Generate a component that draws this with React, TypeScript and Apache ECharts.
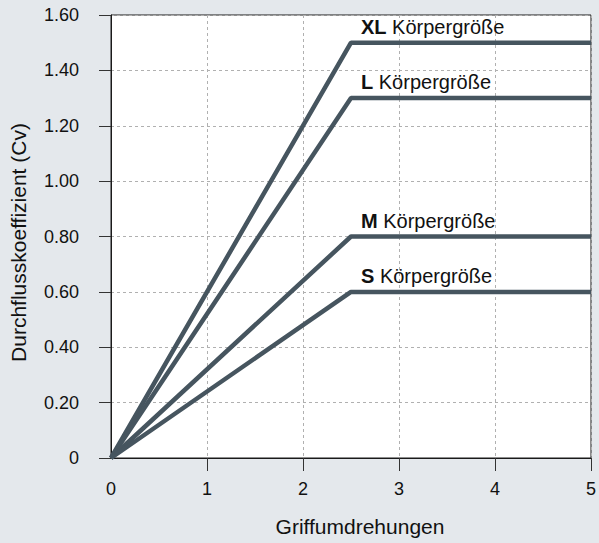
import React, { useEffect, useRef } from "react";
import * as echarts from "echarts";

const sizes = ["XL", "L", "M", "S"];
const turnPoints = [0, 2.5, 5];
const xlValues = [0, 1.5, 1.5];
const lValues = [0, 1.3, 1.3];
const mValues = [0, 0.8, 0.8];
const sValues = [0, 0.6, 0.6];
const xTickLabels = [0, 1, 2, 3, 4, 5];

const LINE_COLOR = "#46555f";
const FONT = "'Liberation Sans', Arial, Helvetica, sans-serif";

function makeSeries(name: string, values: number[]) {
  return {
    name,
    type: "line",
    data: values.map((v, i) => {
      const item: any = { value: [turnPoints[i], v] };
      if (i === 1) {
        item.label = {
          show: true,
          position: [10, -16],
          align: "left",
          verticalAlign: "middle",
          formatter: "{b|" + name + "} Körpergröße",
          fontFamily: FONT,
          fontSize: 20,
          color: "#111",
          rich: {
            b: { fontWeight: "bold", fontFamily: FONT, fontSize: 20, color: "#111" },
          },
        };
      }
      return item;
    }),
    showSymbol: true,
    symbol: "circle",
    symbolSize: 0,
    lineStyle: { color: LINE_COLOR, width: 4.5 },
    itemStyle: { color: LINE_COLOR },
    emphasis: { disabled: true },
    silent: true,
  };
}

export default function App() {
  const ref = useRef<HTMLDivElement>(null);
  useEffect(() => {
    if (!ref.current) return;
    const chart = echarts.init(ref.current, undefined, { renderer: "svg" });
    const seriesValues = [xlValues, lValues, mValues, sValues];
    chart.setOption({
      animation: false,
      backgroundColor: "#e4e8ec",
      grid: {
        left: 110,
        right: 5,
        top: 15,
        bottom: 85,
        show: true,
        backgroundColor: "#ffffff",
        borderColor: "#1a1a1a",
        borderWidth: 1,
      },
      xAxis: {
        type: "value",
        min: 0,
        max: 5,
        interval: 0.5,
        name: "Griffumdrehungen",
        nameLocation: "middle",
        nameGap: 58,
        nameTextStyle: { fontFamily: FONT, fontSize: 21, color: "#111", padding: [0, 0, 0, 18] },
        axisLine: { show: true, onZero: false, lineStyle: { color: "#1a1a1a", width: 1 } },
        axisTick: {
          show: true,
          length: 13,
          customValues: [1, 2, 3, 4, 5],
          lineStyle: { color: "#333", width: 1 },
        },
        axisLabel: {
          customValues: xTickLabels,
          margin: 22,
          fontFamily: FONT,
          fontSize: 18,
          color: "#111",
          formatter: (v: number) => String(v),
        },
        splitLine: { show: true, lineStyle: { color: "#b0b0b0", type: [3, 3], width: 1 } },
      },
      yAxis: {
        type: "value",
        min: 0,
        max: 1.6,
        interval: 0.2,
        name: "Durchflusskoeffizient (Cv)",
        nameLocation: "middle",
        nameGap: 82,
        nameTextStyle: { fontFamily: FONT, fontSize: 21, color: "#111", padding: [0, 12, 0, 0] },
        axisLine: { show: true, onZero: false, lineStyle: { color: "#1a1a1a", width: 1 } },
        axisTick: { show: true, length: 12, lineStyle: { color: "#333", width: 1 } },
        axisLabel: {
          margin: 32,
          fontFamily: FONT,
          fontSize: 18,
          color: "#111",
          formatter: (v: number) => (v === 0 ? "0" : v.toFixed(2)),
        },
        splitLine: { show: true, lineStyle: { color: "#b0b0b0", type: [3, 3], width: 1 } },
      },
      series: sizes.map((s, i) => makeSeries(s, seriesValues[i])),
    });
    return () => chart.dispose();
  }, []);
  return <div ref={ref} style={{ width: 599, height: 543, position: "absolute", left: 0, top: 0 }} />;
}
